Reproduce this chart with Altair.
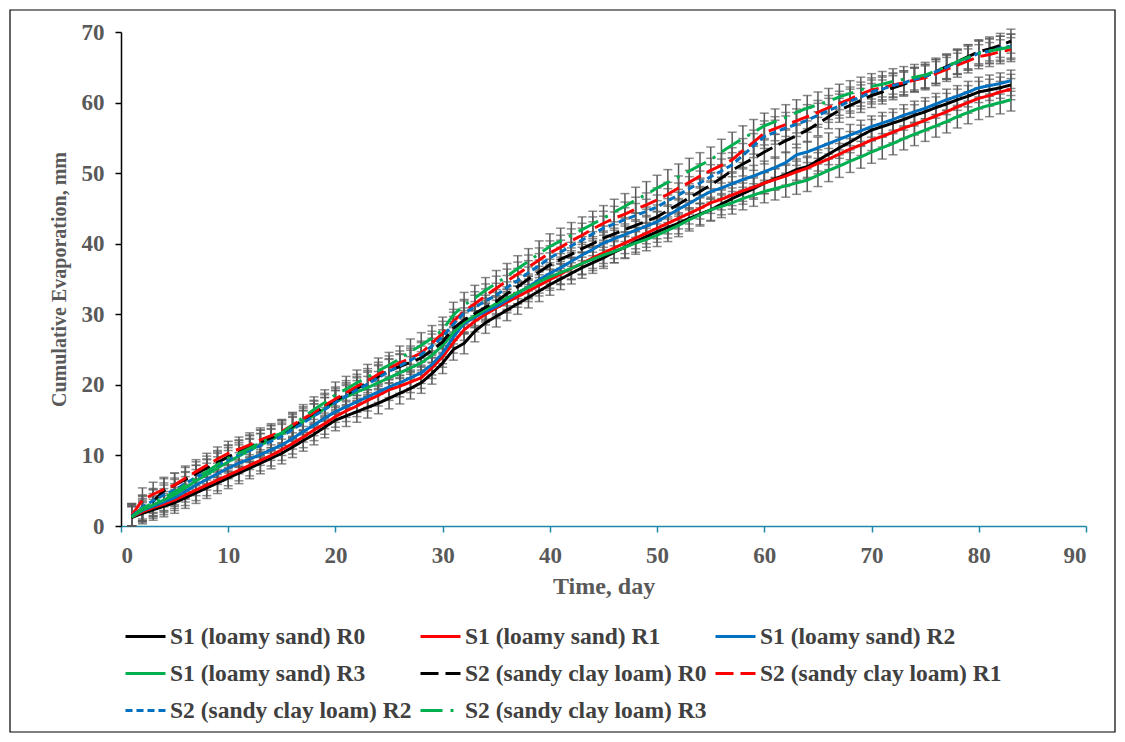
import altair as alt
import pandas as pd

DAYS = list(range(1, 84))

SERIES = [
    "S1 (loamy sand) R0", "S1 (loamy sand) R1", "S1 (loamy sand) R2",
    "S1 (loamy sand) R3", "S2 (sandy clay loam) R0", "S2 (sandy clay loam) R1",
    "S2 (sandy clay loam) R2", "S2 (sandy clay loam) R3",
]
COLORS = ["#000000", "#FF0000", "#0070C0", "#00B050",
          "#000000", "#FF0000", "#0070C0", "#00B050"]
DASHES = [[1, 0], [1, 0], [1, 0], [1, 0],
          [18, 7], [18, 7], [7, 4], [22, 8, 3, 8]]

S1_R0 = [1.2, 1.8, 2.3, 2.8, 3.3, 4.0, 4.7, 5.4, 6.1, 6.8,
         7.5, 8.2, 8.9, 9.6, 10.3, 11.2, 12.1, 13.0, 14.0, 15.0,
         15.6, 16.2, 16.8, 17.4, 18.1, 18.8, 19.5, 20.3, 21.6, 23.1,
         25.0, 25.9, 27.6, 28.8, 29.7, 30.6, 31.5, 32.4, 33.3, 34.2,
         35.0, 35.8, 36.6, 37.3, 38.0, 38.8, 39.5, 40.3, 41.0, 41.7,
         42.3, 42.9, 43.6, 44.2, 44.8, 45.6, 46.4, 47.1, 47.8, 48.6,
         49.2, 49.8, 50.5, 50.9, 51.8, 52.7, 53.6, 54.4, 55.3, 56.1,
         56.6, 57.1, 57.6, 58.2, 58.7, 59.3, 59.8, 60.4, 60.9, 61.5,
         61.8, 62.1, 62.5]
S1_R1 = [1.3, 2.0, 2.6, 3.1, 3.7, 4.4, 5.1, 5.8, 6.5, 7.2,
         7.9, 8.6, 9.3, 10.0, 10.8, 11.7, 12.6, 13.6, 14.5, 15.5,
         16.3, 17.0, 17.8, 18.5, 19.3, 19.8, 20.4, 21.0, 22.4, 24.0,
         26.0, 27.8, 29.0, 30.0, 30.9, 31.7, 32.5, 33.3, 34.1, 34.9,
         35.7, 36.5, 37.2, 38.0, 38.7, 39.4, 40.1, 40.8, 41.5, 42.2,
         42.9, 43.6, 44.3, 45.0, 45.8, 46.3, 46.9, 47.5, 48.0, 48.6,
         49.1, 49.6, 50.2, 50.7, 51.4, 52.0, 52.7, 53.4, 54.0, 54.7,
         55.2, 55.8, 56.4, 56.9, 57.5, 58.1, 58.7, 59.4, 60.0, 60.6,
         61.0, 61.5, 61.9]
S1_R2 = [1.3, 2.2, 2.8, 3.4, 4.0, 4.9, 5.8, 6.6, 7.4, 8.2,
         8.9, 9.5, 10.1, 10.8, 11.5, 12.4, 13.4, 14.3, 15.3, 16.2,
         16.9, 17.6, 18.3, 19.0, 19.7, 20.3, 21.0, 21.7, 22.9, 24.5,
         26.8, 28.7, 29.6, 30.4, 31.1, 32.0, 33.0, 33.9, 34.9, 35.8,
         36.6, 37.5, 38.4, 39.2, 40.1, 40.7, 41.3, 41.9, 42.5, 43.1,
         44.0, 44.9, 45.7, 46.6, 47.4, 47.9, 48.5, 49.1, 49.6, 50.2,
         50.8, 51.5, 52.6, 53.0, 53.6, 54.2, 54.8, 55.4, 56.0, 56.6,
         57.1, 57.6, 58.2, 58.7, 59.2, 59.8, 60.4, 60.9, 61.5, 62.1,
         62.4, 62.7, 63.1]
S1_R3 = [1.3, 2.3, 3.0, 3.7, 4.4, 5.4, 6.4, 7.3, 8.2, 9.1,
         9.9, 10.7, 11.5, 12.2, 13.0, 13.9, 14.8, 15.7, 16.6, 17.6,
         18.3, 19.0, 19.6, 20.3, 21.0, 21.7, 22.4, 23.1, 24.2, 25.6,
         27.4, 28.9, 29.8, 30.7, 31.5, 32.3, 33.1, 33.8, 34.6, 35.3,
         35.9, 36.5, 37.2, 37.8, 38.4, 38.9, 39.5, 40.1, 40.6, 41.2,
         41.9, 42.6, 43.4, 44.1, 44.8, 45.3, 45.8, 46.4, 46.9, 47.4,
         47.8, 48.2, 48.6, 49.0, 49.7, 50.4, 51.0, 51.7, 52.3, 53.0,
         53.6, 54.2, 54.9, 55.5, 56.1, 56.7, 57.3, 58.0, 58.6, 59.2,
         59.6, 60.0, 60.4]
S2_R0 = [1.4, 2.5, 3.5, 5.0, 5.8, 6.6, 7.4, 8.2, 9.0, 9.8,
         10.5, 11.2, 11.9, 12.5, 13.2, 14.1, 15.0, 16.0, 16.9, 17.8,
         18.6, 19.5, 20.3, 21.2, 22.0, 22.6, 23.2, 23.8, 24.9, 26.1,
         28.0, 29.2, 30.1, 31.0, 31.8, 32.9, 33.9, 35.0, 36.0, 37.0,
         37.8, 38.5, 39.3, 40.0, 40.8, 41.4, 42.0, 42.6, 43.2, 43.8,
         44.7, 45.6, 46.5, 47.4, 48.3, 49.3, 50.4, 51.3, 52.1, 53.0,
         53.8, 54.6, 55.3, 56.1, 57.0, 58.0, 58.9, 59.6, 60.3, 61.0,
         61.5, 62.1, 62.6, 63.2, 63.7, 64.4, 65.1, 65.8, 66.5, 67.2,
         67.6, 68.1, 68.7]
S2_R1 = [1.5, 3.7, 4.5, 5.2, 5.8, 6.8, 7.7, 8.6, 9.5, 10.3,
         10.9, 11.5, 12.2, 12.8, 13.4, 14.3, 15.2, 16.1, 17.1, 18.0,
         18.9, 19.8, 20.6, 21.5, 22.4, 23.1, 23.8, 24.5, 25.9, 27.3,
         29.0, 30.4, 31.5, 32.6, 33.7, 34.7, 35.7, 36.7, 37.7, 38.7,
         39.5, 40.4, 41.2, 42.1, 42.9, 43.6, 44.2, 44.9, 45.5, 46.2,
         47.0, 47.9, 48.7, 49.6, 50.4, 51.1, 51.9, 53.2, 54.4, 55.7,
         56.3, 56.9, 57.4, 58.0, 58.6, 59.3, 59.9, 60.5, 61.2, 61.8,
         62.1, 62.5, 62.8, 63.2, 63.5, 64.1, 64.7, 65.3, 65.9, 66.5,
         66.8, 67.2, 67.5]
S2_R2 = [1.4, 2.7, 3.6, 4.4, 5.1, 6.0, 6.9, 7.7, 8.6, 9.4,
         10.1, 10.7, 11.4, 12.0, 12.7, 13.7, 14.6, 15.6, 16.5, 17.5,
         18.4, 19.3, 20.1, 21.0, 21.9, 22.7, 23.5, 24.3, 25.5, 26.8,
         28.6, 30.2, 31.0, 31.9, 32.7, 33.8, 34.8, 35.9, 36.9, 38.0,
         38.8, 39.7, 40.5, 41.4, 42.2, 42.8, 43.4, 44.0, 44.6, 45.2,
         46.1, 46.9, 47.8, 48.6, 49.5, 50.3, 51.2, 52.5, 53.9, 55.2,
         55.8, 56.4, 56.9, 57.5, 58.2, 58.9, 59.5, 60.2, 60.8, 61.5,
         61.9, 62.4, 62.8, 63.3, 63.7, 64.4, 65.0, 65.7, 66.3, 67.0,
         67.3, 67.7, 68.0]
S2_R3 = [1.3, 2.5, 3.3, 4.0, 4.8, 5.8, 6.8, 7.7, 8.7, 9.6,
         10.3, 11.0, 11.8, 12.5, 13.2, 14.3, 15.4, 16.5, 17.5, 18.6,
         19.4, 20.3, 21.1, 22.0, 22.8, 23.7, 24.7, 25.6, 26.6, 27.8,
         29.9, 31.3, 32.3, 33.4, 34.4, 35.4, 36.5, 37.5, 38.6, 39.6,
         40.4, 41.2, 42.0, 42.8, 43.6, 44.5, 45.3, 46.2, 47.0, 47.9,
         48.7, 49.5, 50.3, 51.1, 51.9, 53.0, 54.0, 54.9, 55.8, 56.7,
         57.3, 57.9, 58.6, 59.2, 59.7, 60.2, 60.8, 61.3, 61.8, 62.3,
         62.6, 63.0, 63.3, 63.6, 63.9, 64.5, 65.1, 65.8, 66.4, 67.0,
         67.3, 67.6, 67.9]

VALUES = [S1_R0, S1_R1, S1_R2, S1_R3, S2_R0, S2_R1, S2_R2, S2_R3]
ERRORS = [1.5, 1.5, 1.5, 1.6, 1.7, 1.7, 1.7, 1.8]

X_TICKS = [0, 10, 20, 30, 40, 50, 60, 70, 80, 90]
Y_TICKS = [0, 10, 20, 30, 40, 50, 60, 70]

rows, caps = [], []
for name, vals, err in zip(SERIES, VALUES, ERRORS):
    for d, v in zip(DAYS, vals):
        lo = max(0.0, v - err)
        hi = v + err
        rows.append({"series": name, "day": d, "value": v, "lo": lo, "hi": hi})
        caps.append({"day": d, "cap": lo})
        caps.append({"day": d, "cap": hi})
df = pd.DataFrame(rows)
cap_df = pd.DataFrame(caps)

FONT = "Liberation Serif"
TXT = "#595959"
GRAY = "#595959"

xscale = alt.Scale(domain=[0, 90], nice=False, zero=False)
yscale = alt.Scale(domain=[0, 70], nice=False)
xaxis = alt.Axis(values=X_TICKS, title="Time, day", grid=False,
                 domainColor="#1E88A8", tickColor="#1E88A8", domainWidth=1.5,
                 tickWidth=1.5, tickSize=6, labelPadding=12, titlePadding=7,
                 labelFont=FONT, labelFontSize=23, labelFontWeight="bold", labelColor=TXT,
                 titleFont=FONT, titleFontSize=24, titleFontWeight="bold", titleColor=TXT)
yaxis = alt.Axis(values=Y_TICKS, title="Cumulative Evaporation, mm", grid=False,
                 domainColor="#000000", tickColor="#000000", domainWidth=1.5,
                 tickWidth=1.5, tickSize=6, labelPadding=11, titlePadding=12,
                 labelFont=FONT, labelFontSize=23, labelFontWeight="bold", labelColor=TXT,
                 titleFont=FONT, titleFontSize=20, titleFontWeight="bold", titleColor=TXT)


def X():
    return alt.X("day:Q", scale=xscale, axis=xaxis)


def Y(field):
    return alt.Y(f"{field}:Q", scale=yscale, axis=yaxis)


legend = alt.Legend(title=None, orient="none", direction="horizontal",
                    legendX=3, legendY=583, columns=3,
                    gridAlign="all", symbolType="stroke", symbolSize=1600,
                    symbolStrokeWidth=3, labelFont=FONT, labelFontSize=23.5,
                    labelFontWeight="bold", labelColor="#404040", labelLimit=500,
                    rowPadding=4, columnPadding=2, labelOffset=3, padding=0)

bars = alt.Chart(df).mark_rule(color=GRAY, strokeWidth=1.5).encode(
    x=X(), y=Y("lo"), y2="hi:Q")
ticks = alt.Chart(cap_df).mark_tick(orient="horizontal", color=GRAY, size=9,
                                    thickness=1.5).encode(x=X(), y=Y("cap"))
lines = alt.Chart(df).mark_line(strokeWidth=3).encode(
    x=X(), y=Y("value"),
    color=alt.Color("series:N", scale=alt.Scale(domain=SERIES, range=COLORS), legend=legend),
    strokeDash=alt.StrokeDash("series:N", scale=alt.Scale(domain=SERIES, range=DASHES),
                              legend=legend),
)
frame = alt.Chart(pd.DataFrame({"a": [0]})).mark_rect(
    fillOpacity=0, stroke="#000000", strokeWidth=1.2).encode(
    x=alt.value(-111), x2=alt.value(994), y=alt.value(-22), y2=alt.value(700))

chart = alt.layer(bars, ticks, lines, frame).properties(
    width=965, height=494,
    autosize=alt.AutoSizeParams(type="none"),
    padding={"left": 113, "top": 24, "right": 31, "bottom": 208},
    background="white",
).configure_view(stroke=None)

chart.save("out.html", embed_options={"renderer": "svg", "actions": False})
